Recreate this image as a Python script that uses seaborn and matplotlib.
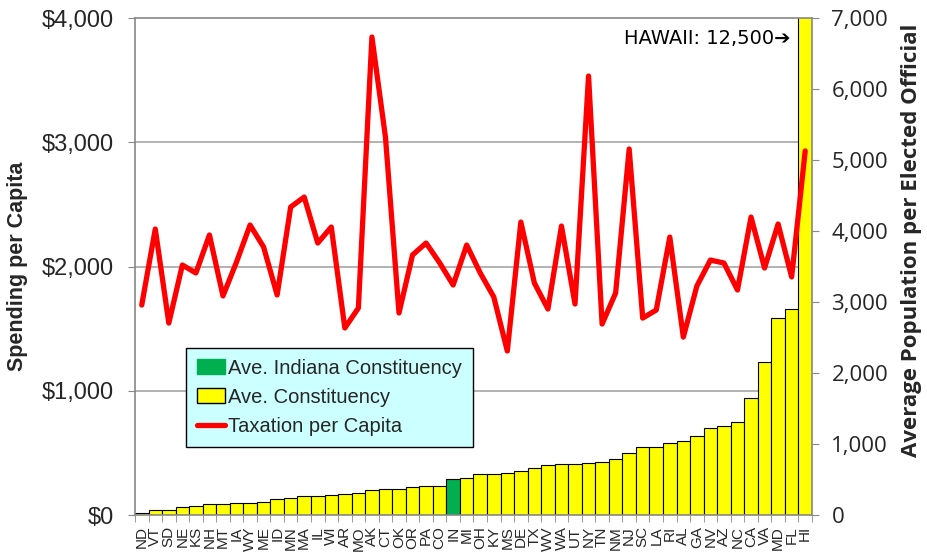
import matplotlib
matplotlib.use("Agg")
import matplotlib.pyplot as plt
import numpy as np
import pandas as pd
import seaborn as sns
from matplotlib.lines import Line2D
from matplotlib.patches import Patch

# Data
states = ["ND", "VT", "SD", "NE", "KS", "NH", "MT", "IA", "WY", "ME",
          "ID", "MN", "MA", "IL", "WI", "AR", "MO", "AK", "CT", "OK",
          "OR", "PA", "CO", "IN", "MI", "OH", "KY", "MS", "DE", "TX",
          "WV", "WA", "UT", "NY", "TN", "NM", "NJ", "SC", "LA", "RI",
          "AL", "GA", "NV", "AZ", "NC", "CA", "VA", "MD", "FL", "HI"]
population = [33, 70, 75, 110, 130, 155, 160, 165, 175, 190,
              225, 240, 268, 272, 277, 290, 314, 348, 362, 366,
              390, 404, 413, 507, 517, 573, 575, 587, 624, 657,
              700, 714, 718, 728, 751, 789, 869, 953, 962, 1009,
              1042, 1113, 1230, 1254, 1305, 1648, 2150, 2770, 2897, 12500]
taxation = [1690, 2302, 1545, 2012, 1948, 2254, 1763, 2036, 2334, 2157,
            1771, 2479, 2559, 2189, 2318, 1505, 1666, 3847, 3042, 1626,
            2093, 2189, 2030, 1851, 2173, 1948, 1755, 1320, 2358, 1867,
            1658, 2326, 1698, 3533, 1537, 1787, 2946, 1585, 1650, 2237,
            1432, 1843, 2052, 2028, 1811, 2398, 1988, 2342, 1916, 2930]
highlight = "IN"
dollar_ticks = [0, 1000, 2000, 3000, 4000]
pop_ticks = [0, 1000, 2000, 3000, 4000, 5000, 6000, 7000]

yellow = "#FFFF00"
green = "#00B050"
red = "#FF0000"

df = pd.DataFrame({"State": states, "Population": population, "Taxation": taxation})
df["pos"] = np.arange(len(df))

sns.set_style("white")
plt.rcParams["font.family"] = ["Liberation Sans", "DejaVu Sans"]

fig = plt.figure(figsize=(9.27, 5.56), dpi=100)
ax = fig.add_axes([0.1456, 0.0737, 0.7303, 0.8939])
# twin axes for the taxation line (drawn above the bars)
ax2 = ax.twinx()

# Bars (right axis scale) drawn on the main axes
palette = {s: (green if s == highlight else yellow) for s in states}
sns.barplot(data=df, x="State", y="Population", hue="State", palette=palette,
            legend=False, width=1.0, edgecolor="black", linewidth=0.8,
            saturation=1, ax=ax, zorder=2)
ax.set_ylim(pop_ticks[0], pop_ticks[-1])
ax.set_xlim(-0.5, len(states) - 0.5)
ax.yaxis.tick_right()
ax.yaxis.set_label_position("right")
ax.set_yticks(pop_ticks)
ax.set_yticklabels([f"{v:,}" for v in pop_ticks], fontsize=16,
                   family=["Open Sans", "DejaVu Sans"])
ax.set_ylabel("Average Population per Elected Official", fontsize=16,
              fontweight="bold", family=["Open Sans", "DejaVu Sans"])
ax.yaxis.set_label_coords(1.132, 0.553)
ax.set_xlabel("")
ax.tick_params(axis="y", which="major", length=5, color="#888888", pad=9,
               right=True, left=False, labelright=True, labelleft=False,
               direction="out")

# gridlines follow the dollar axis, drawn behind the bars
scale = pop_ticks[-1] / dollar_ticks[-1]
ax.set_yticks([v * scale for v in dollar_ticks[1:-1]], minor=True)
ax.tick_params(axis="y", which="minor", length=0)
ax.grid(axis="y", which="minor", color="#A6A6A6", linewidth=1.2, zorder=0)
ax.set_axisbelow(True)

# x ticks: labels at bar centres, tick marks at bar boundaries
ax.set_xticks(df["pos"])
ax.set_xticklabels(states, rotation=90, fontsize=11)
ax.set_xticks(np.arange(len(states) + 1) - 0.5, minor=True)
ax.tick_params(axis="x", which="major", length=0, pad=8)
ax.tick_params(axis="x", which="minor", length=5, color="#888888",
               bottom=True, direction="out")

for sp in ax.spines.values():
    sp.set_color("#888888")
    sp.set_linewidth(1.2)

# Taxation line on the twin (left) axis
sns.lineplot(data=df, x="pos", y="Taxation", color=red, linewidth=3.8,
             sort=False, ax=ax2)
ax2.set_ylim(dollar_ticks[0], dollar_ticks[-1])
ax2.set_xlim(-0.5, len(states) - 0.5)
ax2.yaxis.tick_left()
ax2.yaxis.set_label_position("left")
ax2.set_yticks(dollar_ticks)
ax2.set_yticklabels([f"${v:,}" for v in dollar_ticks], fontsize=17)
ax2.set_ylabel("Spending per Capita", fontsize=15.5, fontweight="bold", labelpad=10)
ax2.set_xlabel("")
ax2.tick_params(axis="y", length=5, color="#888888", pad=10,
                left=True, right=False, labelleft=True, labelright=False,
                direction="out")
ax2.tick_params(axis="x", bottom=False, labelbottom=False)
for sp in ax2.spines.values():
    sp.set_visible(False)

ax2.text(0.968, 0.958, "HAWAII: 12,500\u2794", transform=ax2.transAxes,
         ha="right", va="center", fontsize=14, family=["DejaVu Sans"],
         color="black")

handles = [
    Patch(facecolor=green, edgecolor=green, label="Ave. Indiana Constituency"),
    Patch(facecolor=yellow, edgecolor="black", label="Ave. Constituency"),
    Line2D([0], [0], color=red, linewidth=3.8, label="Taxation per Capita"),
]
leg = ax2.legend(handles=handles, loc="lower left", bbox_to_anchor=(0.075, 0.137),
                 fontsize=14.5, frameon=True, fancybox=False, facecolor="#CCFFFF",
                 edgecolor="black", framealpha=1, handlelength=1.4,
                 handleheight=0.8, handletextpad=0.15, borderpad=0.55,
                 labelspacing=0.5, borderaxespad=0)
leg.get_frame().set_linewidth(1.0)

fig.savefig("out.png", dpi=100)
